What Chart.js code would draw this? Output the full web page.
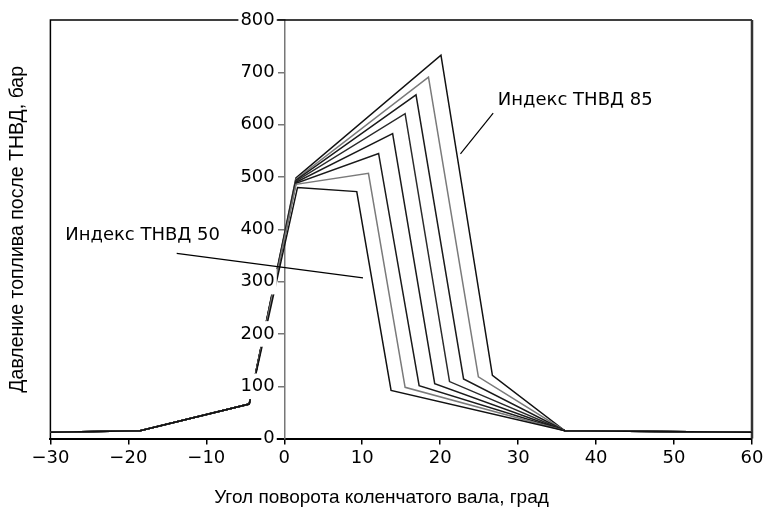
<!DOCTYPE html>
<html>
<head>
<meta charset="utf-8">
<script src="https://cdn.jsdelivr.net/npm/chart.js@4"></script>
<style>
  html, body { margin: 0; padding: 0; background: #ffffff; }
  #wrap { width: 763px; height: 507px; }
</style>
</head>
<body>
<div id="wrap"><canvas id="chart"></canvas></div>
<script>
// pump index of each curve
const pumpIndex = [50, 55, 60, 65, 70, 75, 80, 85];

// shared start of every curve (crank angle, deg / pressure, bar)
const startAngle = [-30, -18.5, -4.5];
const startPressure = [12, 15, 66];

// where each curve leaves the common rise
const branchAngle = [1.7, 1.5, 1.5, 1.5, 1.5, 1.5, 1.5, 1.5];
const branchPressure = [480, 486, 488, 490, 492, 494, 496, 498];

// peak of each curve
const peakAngle = [9.3, 10.8, 12.1, 13.9, 15.5, 16.9, 18.5, 20.1];
const peakPressure = [472, 507, 545, 583, 621, 657, 691, 733];

// knee after the drop
const kneeAngle = [13.7, 15.5, 17.3, 19.3, 21.2, 23.0, 24.9, 26.7];
const kneePressure = [92, 98, 101, 105, 109, 114, 118, 121];

// shared tail
const endAngle = [36, 60];
const endPressure = [15, 12];

const lineColors = ["#111111", "#7a7a7a", "#1a1a1a", "#1a1a1a", "#2a2a2a", "#1a1a1a", "#7a7a7a", "#111111"];

const SANS = "'Liberation Sans', Arial, Helvetica, sans-serif";
const WIDE = "'DejaVu Sans', 'Liberation Sans', sans-serif";
Chart.defaults.font.family = SANS;
Chart.defaults.color = "#000000";

function buildSeries(i) {
  const pts = [];
  startAngle.forEach((a, k) => pts.push({ x: a, y: startPressure[k] }));
  pts.push({ x: branchAngle[i], y: branchPressure[i] });
  pts.push({ x: peakAngle[i], y: peakPressure[i] });
  pts.push({ x: kneeAngle[i], y: kneePressure[i] });
  endAngle.forEach((a, k) => pts.push({ x: a, y: endPressure[k] }));
  return pts;
}

const datasets = pumpIndex.map((idx, i) => ({
  label: "Индекс ТНВД " + idx,
  data: buildSeries(i),
  borderColor: lineColors[i],
  borderWidth: 1.5,
  pointRadius: 0,
  tension: 0,
  fill: false,
}));

// callout texts and leader lines, in data units
const notes = [
  { text: "Индекс ТНВД 50", at: [-28.1, 388], from: [-13.8, 354], to: [10.1, 307] },
  { text: "Индекс ТНВД 85", at: [27.4, 647], from: [26.8, 622], to: [22.6, 544] },
];

const framePlugin = {
  id: "frame",
  beforeDatasetsDraw(chart) {
    const { ctx, chartArea: a } = chart;
    ctx.save();
    ctx.strokeStyle = "#000000";
    ctx.lineWidth = 1.5;
    ctx.beginPath();
    ctx.moveTo(a.left, a.bottom);
    ctx.lineTo(a.left, a.top);
    ctx.lineTo(a.right, a.top);
    ctx.stroke();
    ctx.lineWidth = 2.5;
    ctx.strokeStyle = "#333333";
    ctx.beginPath();
    ctx.moveTo(a.right, a.top);
    ctx.lineTo(a.right, a.bottom);
    ctx.stroke();
    ctx.restore();
  },
};

const notesPlugin = {
  id: "notes",
  afterDraw(chart) {
    const { ctx } = chart;
    const xs = chart.scales.x;
    const ys = chart.scales.y;
    ctx.save();
    ctx.font = "18px " + WIDE;
    ctx.fillStyle = "#000000";
    ctx.textAlign = "left";
    ctx.textBaseline = "middle";
    ctx.strokeStyle = "#000000";
    ctx.lineWidth = 1.2;
    notes.forEach((n) => {
      ctx.fillText(n.text, xs.getPixelForValue(n.at[0]), ys.getPixelForValue(n.at[1]));
      ctx.beginPath();
      ctx.moveTo(xs.getPixelForValue(n.from[0]), ys.getPixelForValue(n.from[1]));
      ctx.lineTo(xs.getPixelForValue(n.to[0]), ys.getPixelForValue(n.to[1]));
      ctx.stroke();
    });
    ctx.restore();
  },
};

function fmtTick(v) {
  return v < 0 ? "\u2212" + Math.abs(v) : String(v);
}

new Chart(document.getElementById("chart").getContext("2d"), {
  type: "line",
  data: { datasets },
  options: {
    responsive: true,
    maintainAspectRatio: false,
    animation: false,
    layout: { padding: { top: 20, right: 0, bottom: 0, left: 0 } },
    plugins: {
      legend: { display: false },
      tooltip: { enabled: false },
      title: {
        display: true,
        position: "bottom",
        text: "Угол поворота коленчатого вала, град",
        color: "#000000",
        font: { size: 19, weight: "normal" },
        padding: { top: 14, bottom: -2 },
      },
      subtitle: {
        display: true,
        position: "left",
        fullSize: false,
        text: "Давление топлива после ТНВД, бар",
        color: "#000000",
        font: { size: 19.5, weight: "normal" },
        padding: { top: 6, bottom: 21 },
      },
    },
    scales: {
      x: {
        type: "linear",
        position: "bottom",
        min: -30,
        max: 60,
        afterFit: (s) => { s.paddingRight = 11; },
        ticks: {
          stepSize: 10,
          color: "#000000",
          font: { size: 18, family: WIDE },
          padding: 3,
          maxRotation: 0,
          callback: (v) => fmtTick(v),
        },
        grid: { drawOnChartArea: false, drawTicks: true, tickLength: 6, color: "#000000", lineWidth: 1.5 },
        border: { color: "#000000", width: 2 },
      },
      // labels of the pressure axis, set a little left of the zero line
      y: {
        type: "linear",
        position: { x: -1.22 },
        z: 1,
        min: 0,
        max: 800,
        ticks: {
          z: 1,
          stepSize: 100,
          color: "#000000",
          font: { size: 18, family: WIDE },
          showLabelBackdrop: true,
          backdropColor: "#ffffff",
          backdropPadding: 2,
        },
        grid: { display: false },
        border: { display: false },
      },
      // the pressure axis line and its tick marks on the zero line
      yLine: {
        type: "linear",
        position: { x: 0 },
        min: 0,
        max: 800,
        ticks: { stepSize: 100, display: false },
        grid: { drawOnChartArea: false, drawTicks: true, tickLength: 6, color: "#777777", lineWidth: 1.5 },
        border: { color: "#777777", width: 1.5 },
      },
    },
  },
  plugins: [framePlugin, notesPlugin],
});
</script>
</body>
</html>
